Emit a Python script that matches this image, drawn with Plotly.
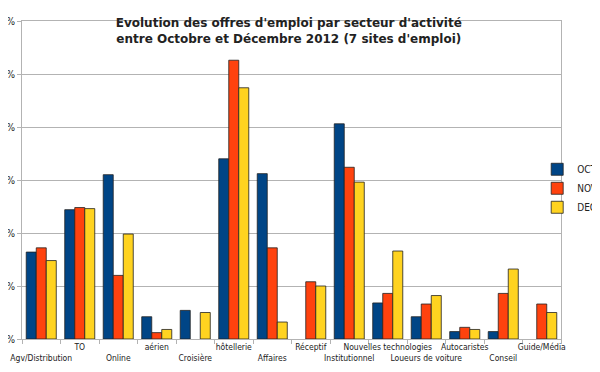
import plotly.graph_objects as go

categories = ["Agv/Distribution", "TO", "Online", "aérien", "Croisière", "hôtellerie",
              "Affaires", "Réceptif", "Institutionnel", "Nouvelles technologies",
              "Loueurs de voiture", "Autocaristes", "Conseil", "Guide/Média"]
oct_2012 = [8.2, 12.2, 15.5, 2.1, 2.7, 17.0, 15.6, 0, 20.3, 3.4, 2.1, 0.7, 0.7, 0]
nov_2012 = [8.6, 12.4, 6.0, 0.6, 0, 26.3, 8.6, 5.4, 16.2, 4.3, 3.3, 1.1, 4.3, 3.3]
dec_2012 = [7.4, 12.3, 9.9, 0.9, 2.5, 23.7, 1.6, 5.0, 14.8, 8.3, 4.1, 0.9, 6.6, 2.5]
series_names = ["OCT 2012", "NOV 2012", "DEC 2012"]
colors = ["#004586", "#ff420e", "#ffd320"]
y_ticks = [0, 5, 10, 15, 20, 25, 30]
y_tick_labels = [f"{v}%" for v in y_ticks]

tick_text = [c if i % 2 == 1 else "<br>" + c for i, c in enumerate(categories)]

fig = go.Figure()
for name, vals, col in zip(series_names, [oct_2012, nov_2012, dec_2012], colors):
    fig.add_trace(go.Bar(
        x=categories, y=vals, name=name,
        marker=dict(color=col,
                    line=dict(color="#222222",
                              width=[0.8 if v > 0 else 0 for v in vals]))))

label_font = "Liberation Sans Narrow, DejaVu Sans Condensed, Liberation Sans, sans-serif"

fig.update_layout(
    width=600, height=372,
    paper_bgcolor="white", plot_bgcolor="white",
    margin=dict(l=14, r=47, t=13, b=41, autoexpand=False),
    barmode="group", bargap=0.22, bargroupgap=0,
    title=dict(text="Evolution des offres d'emploi par secteur d'activité<br>entre Octobre et Décembre 2012 (7 sites d'emploi)",
               x=0.468, xanchor="center", y=0.948, yanchor="top",
               font=dict(family="DejaVu Sans", size=12, color="#222222", weight="bold")),
    legend=dict(xref="container", x=0.882, xanchor="left",
                yref="paper", y=0.474, yanchor="middle",
                font=dict(family=label_font, size=10, color="#222222"),
                itemwidth=30, bgcolor="rgba(0,0,0,0)", borderwidth=0),
    showlegend=True,
)
fig.update_xaxes(
    tickmode="array", tickvals=categories, ticktext=tick_text,
    tickson="boundaries", ticks="outside", ticklen=4, tickcolor="#b3b3b3",
    showline=True, linecolor="#b3b3b3", mirror=True, showgrid=False,
    tickfont=dict(family=label_font, size=8.5, color="#222222"), tickangle=0,
)
fig.update_yaxes(
    range=[0, 30], tickmode="array", tickvals=y_ticks, ticktext=y_tick_labels,
    ticks="outside", ticklen=4, tickcolor="#b3b3b3",
    showline=True, linecolor="#b3b3b3", mirror=True,
    showgrid=True, gridcolor="#b3b3b3", gridwidth=1, zeroline=False,
    tickfont=dict(family=label_font, size=10, color="#222222"),
)
fig.write_html("out.html")
